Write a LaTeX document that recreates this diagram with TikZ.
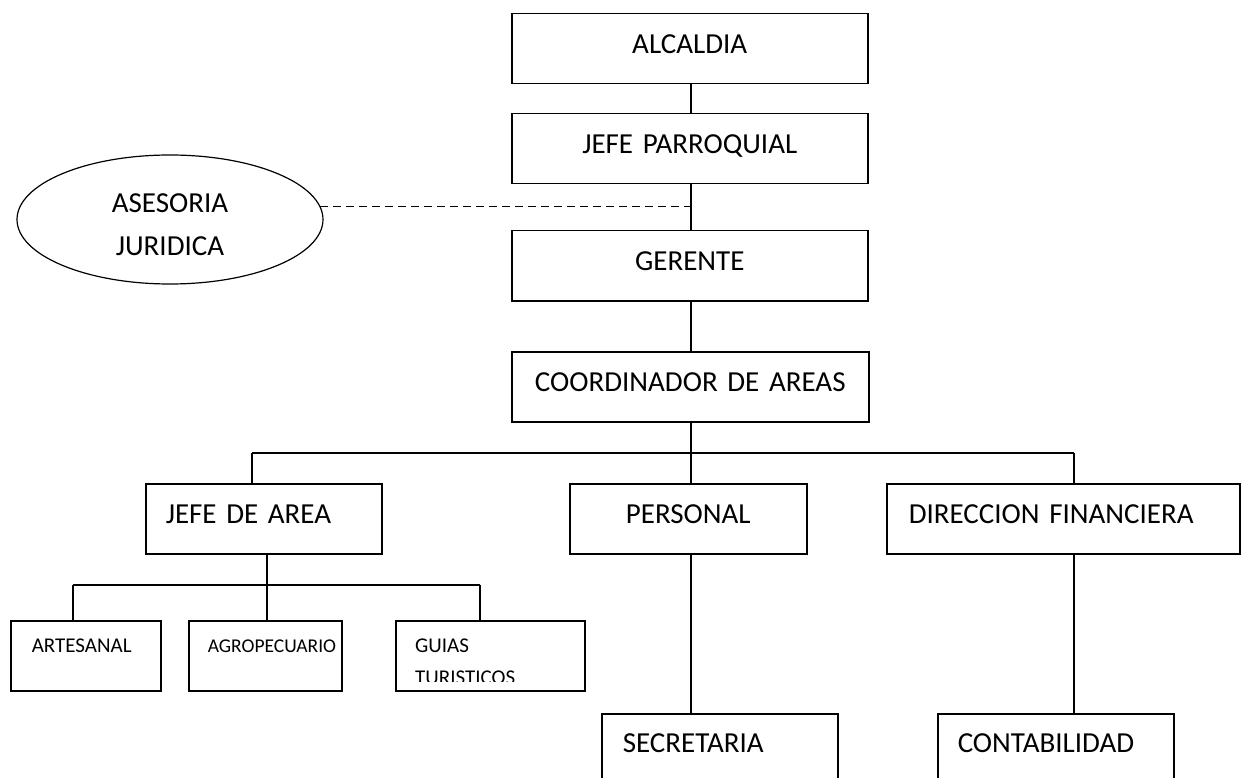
\documentclass[tikz,border=0pt]{standalone}
\usepackage{fontspec}
\setmainfont{Carlito}
\usetikzlibrary{shapes.geometric}
\begin{document}
\begin{tikzpicture}[x=1pt,y=-1pt,
  box/.style={draw, line width=1.5pt, inner ysep=0pt, anchor=north west,
    text height=40pt, text depth=30pt, font={\fontsize{29}{35}\selectfont}},
  cbox/.style={box, inner xsep=0pt, align=center},
  lbox/.style={box, inner xsep=21pt, align=left},
  sbox/.style={draw, line width=1.5pt, inner ysep=0pt, inner xsep=21pt, anchor=north west,
    align=left, text height=32pt, text depth=38pt, font={\fontsize{21}{32}\selectfont}},
  conn/.style={line width=1.2pt},
  dconn/.style={line width=1.6pt, dash pattern=on 8pt off 5pt}]
\useasboundingbox (0,0) rectangle (1245,778);
\clip (0,0) rectangle (1245,778);

% spine and bus coordinates
\coordinate (spine) at (691,0);
\coordinate (bus) at (691,453);
\coordinate (b1) at (252,453);
\coordinate (b3) at (1074,453);
\coordinate (c1) at (73,585);
\coordinate (c2) at (267,585);
\coordinate (c3) at (480,585);

% top chain
\node[cbox, text width=356pt] (alc) at (511,13) {ALCALDIA};
\node[cbox, text width=356pt] (jefe) at (511,113) {JEFE PARROQUIAL};
\node[cbox, text width=356pt] (ger) at (511,230) {GERENTE};
\node[cbox, text width=357pt] (coord) at (511,351) {COORDINADOR DE AREAS};

% advisory ellipse
\node[draw, ellipse, line width=1.2pt, inner sep=0pt, minimum width=306pt, minimum height=129pt,
  align=center, text height=71pt, text depth=0pt, font={\fontsize{29}{43}\selectfont}] (ases) at (170,219.5) {ASESORIA\\JURIDICA};

% level 3
\node[lbox, inner xsep=20pt, text width=196pt] (jarea) at (145,483) {JEFE DE AREA};
\node[cbox, text width=237pt] (pers) at (569,483) {PERSONAL};
\node[lbox, inner xsep=22pt, text width=309pt] (dir) at (886,483) {DIRECCION FINANCIERA};

% level 4
\node[sbox, text width=108pt] (art) at (10,620) {ARTESANAL};
\node[sbox, inner xsep=19pt, text width=115pt, font={\fontsize{19.5}{32}\selectfont}] (agro) at (188,620) {AGROPECUARIO};
\node[sbox, text width=147pt] (guias) at (395,620) {};
\begin{scope}
  \clip (395,620) rectangle (584,681);
  \node[anchor=north west, inner sep=0pt, align=left, text height=64pt, text depth=0pt,
    font={\fontsize{21}{32}\selectfont}] (guiastxt) at (415,620) {GUIAS\\TURISTICOS};
\end{scope}

% level 5
\node[lbox, text width=194pt, text height=39pt, text depth=61pt] (sec) at (601,713) {SECRETARIA};
\node[lbox, inner xsep=20pt, text width=196pt, text height=39pt, text depth=61pt] (cont) at (937,713) {CONTABILIDAD};

% connectors
\draw[conn] (alc.south -| spine) -- (jefe.north -| spine);
\draw[conn] (jefe.south -| spine) -- (ger.north -| spine);
\draw[dconn] (ases.5) -- (ases.5 -| spine);
\draw[conn] (ger.south -| spine) -- (coord.north -| spine);
\draw[conn] (coord.south -| spine) -- (bus);
\draw[conn] (b1) -- (b3);
\draw[conn] (b1) -- (b1 |- jarea.north);
\draw[conn] (bus) -- (bus |- pers.north);
\draw[conn] (b3) -- (b3 |- dir.north);
\draw[conn] (pers.south -| spine) -- (spine |- sec.north);
\draw[conn] (dir.south -| b3) -- (b3 |- cont.north);
\draw[conn] (jarea.south -| c2) -- (c2 |- agro.north);
\draw[conn] (c1) -- (c3);
\draw[conn] (c1) -- (c1 |- art.north);
\draw[conn] (c3) -- (c3 |- guias.north);
\end{tikzpicture}
\end{document}
